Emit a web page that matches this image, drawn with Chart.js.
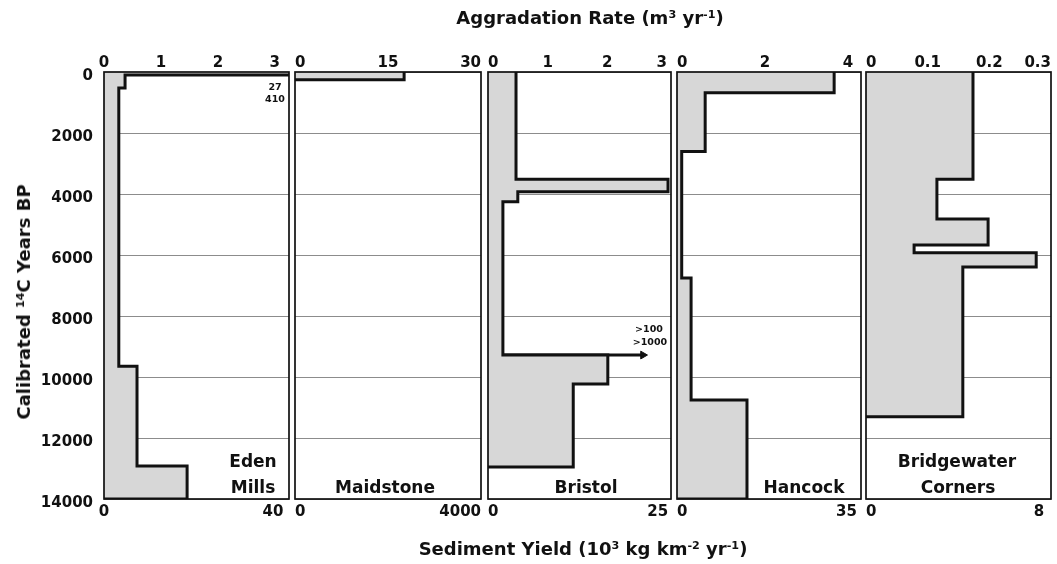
<!DOCTYPE html>
<html>
<head>
<meta charset="utf-8">
<script src="https://cdn.jsdelivr.net/npm/chart.js@4.4.1/dist/chart.umd.min.js"></script>
<style>
html,body{margin:0;padding:0;background:#fff;}
#wrap{position:relative;width:1057px;height:564px;overflow:hidden;font-family:"DejaVu Sans",sans-serif;font-weight:bold;color:#111;}
#wrap canvas{position:absolute;left:0;top:0;}
.t{position:absolute;white-space:nowrap;transform:translate(-50%,-50%);line-height:1;}
.t sup{font-size:0.62em;position:relative;top:-0.5em;vertical-align:baseline;line-height:0;}
.big{font-size:18px;}
.lab{font-size:17px;}
.note{font-size:9.5px;}
.ytitle{transform:translate(-50%,-50%) rotate(-90deg);}
</style>
</head>
<body>
<div id="wrap">
<canvas id="c0" width="1057" height="564"></canvas>
<canvas id="c1" width="1057" height="564"></canvas>
<canvas id="c2" width="1057" height="564"></canvas>
<canvas id="c3" width="1057" height="564"></canvas>
<canvas id="c4" width="1057" height="564"></canvas>

<div class="t big" style="left:590px;top:18px;">Aggradation Rate (m<sup>3</sup> yr<sup>-1</sup>)</div>
<div class="t big" style="left:583px;top:549px;">Sediment Yield (10<sup>3</sup> kg km<sup>-2</sup> yr<sup>-1</sup>)</div>
<div class="t big ytitle" style="left:24px;top:302px;">Calibrated <sup>14</sup>C Years BP</div>

<div class="t lab" style="left:253px;top:461px;">Eden</div>
<div class="t lab" style="left:253px;top:487px;">Mills</div>
<div class="t lab" style="left:385px;top:487px;">Maidstone</div>
<div class="t lab" style="left:586px;top:487px;">Bristol</div>
<div class="t lab" style="left:804px;top:487px;">Hancock</div>
<div class="t lab" style="left:957px;top:461px;">Bridgewater</div>
<div class="t lab" style="left:958px;top:487px;">Corners</div>

<div class="t note" style="left:275px;top:87px;">27</div>
<div class="t note" style="left:275px;top:99px;">410</div>
<div class="t note" style="left:649px;top:329px;">&gt;100</div>
<div class="t note" style="left:650px;top:342px;">&gt;1000</div>
</div>

<script>
// ---------- DATA ----------
const yearTicks = [0, 2000, 4000, 6000, 8000, 10000, 12000, 14000];

// Eden Mills: period boundaries (yr BP) and aggradation rate (m3/yr) in each period
const edenYears = [0, 100, 525, 9650, 12920, 14000];
const edenRates = [27, 0.37, 0.26, 0.58, 1.46];
const edenRateTicks = [0, 1, 2, 3];
const edenYieldTicks = [0, 40];

// Maidstone
const maidstoneYears = [0, 250];
const maidstoneRates = [17.6];
const maidstoneRateTicks = [0, 15, 30];
const maidstoneYieldTicks = [0, 4000];

// Bristol
const bristolYears = [0, 3520, 3925, 4250, 9280, 10230, 12950];
const bristolRates = [0.47, 3.02, 0.50, 0.25, 2.01, 1.43];
const bristolPulseYear = 9280;       // off-scale pulse (>100 / >1000)
const bristolPulseArrow = [0.25, 2.6];
const bristolRateTicks = [0, 1, 2, 3];
const bristolYieldTicks = [0, 25];

// Hancock
const hancockYears = [0, 680, 2610, 6750, 10750, 14000];
const hancockRates = [3.57, 0.64, 0.107, 0.32, 1.59];
const hancockRateTicks = [0, 2, 4];
const hancockYieldTicks = [0, 35];

// Bridgewater Corners
const bridgewaterYears = [0, 3520, 4820, 5670, 5930, 6390, 11300];
const bridgewaterRates = [0.1735, 0.115, 0.198, 0.078, 0.276, 0.157];
const bridgewaterRateTicks = [0, 0.1, 0.2, 0.3];
const bridgewaterYieldTicks = [0, 8];

// axis ranges per panel (rate axis on top, yield axis at bottom)
const rateMax = [3.25, 30, 3.07, 4.18, 0.3];
const yieldMax = [43.8, 4000, 25.4, 35.8, 8.31];

// ---------- LAYOUT ----------
const W = 1057, H = 564;
const panelX = [[104, 289], [295, 481], [488, 671], [677, 861], [866, 1051]];
const plotTop = 72, plotBottom = 499;
const axisH = 25;
const INK = '#111111';
const FILL = '#d7d7d7';
const tickFont = {family: '"DejaVu Sans", sans-serif', weight: 'bold', size: 15};

function stepPoints(years, rates) {
  const pts = [];
  for (let i = 0; i < rates.length; i++) {
    pts.push({x: rates[i], y: years[i]});
    pts.push({x: rates[i], y: years[i + 1]});
  }
  pts.push({x: 0, y: years[years.length - 1]});
  return pts;
}

const framePlugin = {
  id: 'frame',
  afterDraw(chart) {
    const {ctx, chartArea: a} = chart;
    ctx.save();
    ctx.strokeStyle = INK;
    ctx.lineWidth = 1.7;
    ctx.strokeRect(a.left, a.top, a.right - a.left, a.bottom - a.top);
    ctx.restore();
  }
};

function stepDataset(years, rates) {
  return {
    data: stepPoints(years, rates),
    borderColor: INK,
    borderWidth: 3,
    backgroundColor: FILL,
    fill: 'origin',
    pointRadius: 0,
    tension: 0,
    borderJoinStyle: 'miter',
    xAxisID: 'x',
    yAxisID: 'y'
  };
}

const panels = [
  {sets: [stepDataset(edenYears, edenRates)], rt: edenRateTicks, yt: edenYieldTicks, align: 'center'},
  {sets: [stepDataset(maidstoneYears, maidstoneRates)], rt: maidstoneRateTicks, yt: maidstoneYieldTicks, align: 'inner'},
  {sets: [
    stepDataset(bristolYears, bristolRates),
    {
      data: bristolPulseArrow.map(v => ({x: v, y: bristolPulseYear})),
      borderColor: INK, borderWidth: 3, fill: false, tension: 0,
      pointRadius: [0, 4.5], pointStyle: 'triangle', pointRotation: 90,
      pointBackgroundColor: INK, pointBorderColor: INK, pointBorderWidth: 1,
      xAxisID: 'x', yAxisID: 'y'
    }
  ], rt: bristolRateTicks, yt: bristolYieldTicks, align: 'inner'},
  {sets: [stepDataset(hancockYears, hancockRates)], rt: hancockRateTicks, yt: hancockYieldTicks, align: 'inner'},
  {sets: [stepDataset(bridgewaterYears, bridgewaterRates)], rt: bridgewaterRateTicks, yt: bridgewaterYieldTicks, align: 'inner'}
];

panels.forEach((p, i) => {
  const [L, R] = panelX[i];
  const first = i === 0;
  new Chart(document.getElementById('c' + i), {
    type: 'line',
    data: {datasets: p.sets},
    options: {
      responsive: false,
      animation: false,
      indexAxis: 'y',
      events: [],
      layout: {padding: {left: first ? 0 : L, right: W - R, top: plotTop - axisH, bottom: H - plotBottom - axisH}},
      plugins: {legend: {display: false}, tooltip: {enabled: false}, title: {display: false}},
      scales: {
        x: {
          type: 'linear', position: 'top', min: 0, max: rateMax[i], fullSize: false,
          grid: {display: false, drawTicks: false}, border: {display: false},
          ticks: {font: tickFont, color: INK, padding: 0, align: p.align, maxRotation: 0, autoSkip: false,
                  callback: v => String(v)},
          afterBuildTicks: s => { s.ticks = p.rt.map(v => ({value: v})); },
          afterFit: s => { s.height = axisH; }
        },
        x2: {
          type: 'linear', position: 'bottom', min: 0, max: yieldMax[i], fullSize: false,
          grid: {display: false, drawTicks: false}, border: {display: false},
          ticks: {font: tickFont, color: INK, padding: 4, align: p.align, maxRotation: 0, autoSkip: false,
                  callback: v => String(v)},
          afterBuildTicks: s => { s.ticks = p.yt.map(v => ({value: v})); },
          afterFit: s => { s.height = axisH; }
        },
        y: {
          type: 'linear', position: 'left', reverse: true, min: 0, max: 14000, fullSize: false,
          grid: {color: '#8c8c8c', lineWidth: 1, drawTicks: false}, border: {display: false},
          ticks: {display: first, font: tickFont, color: INK, padding: 11, labelOffset: 4, autoSkip: false,
                  callback: v => String(v)},
          afterBuildTicks: s => { s.ticks = yearTicks.map(v => ({value: v})); },
          afterFit: s => { s.width = first ? L : 0; }
        }
      }
    },
    plugins: [framePlugin]
  });
});
</script>
</body>
</html>
